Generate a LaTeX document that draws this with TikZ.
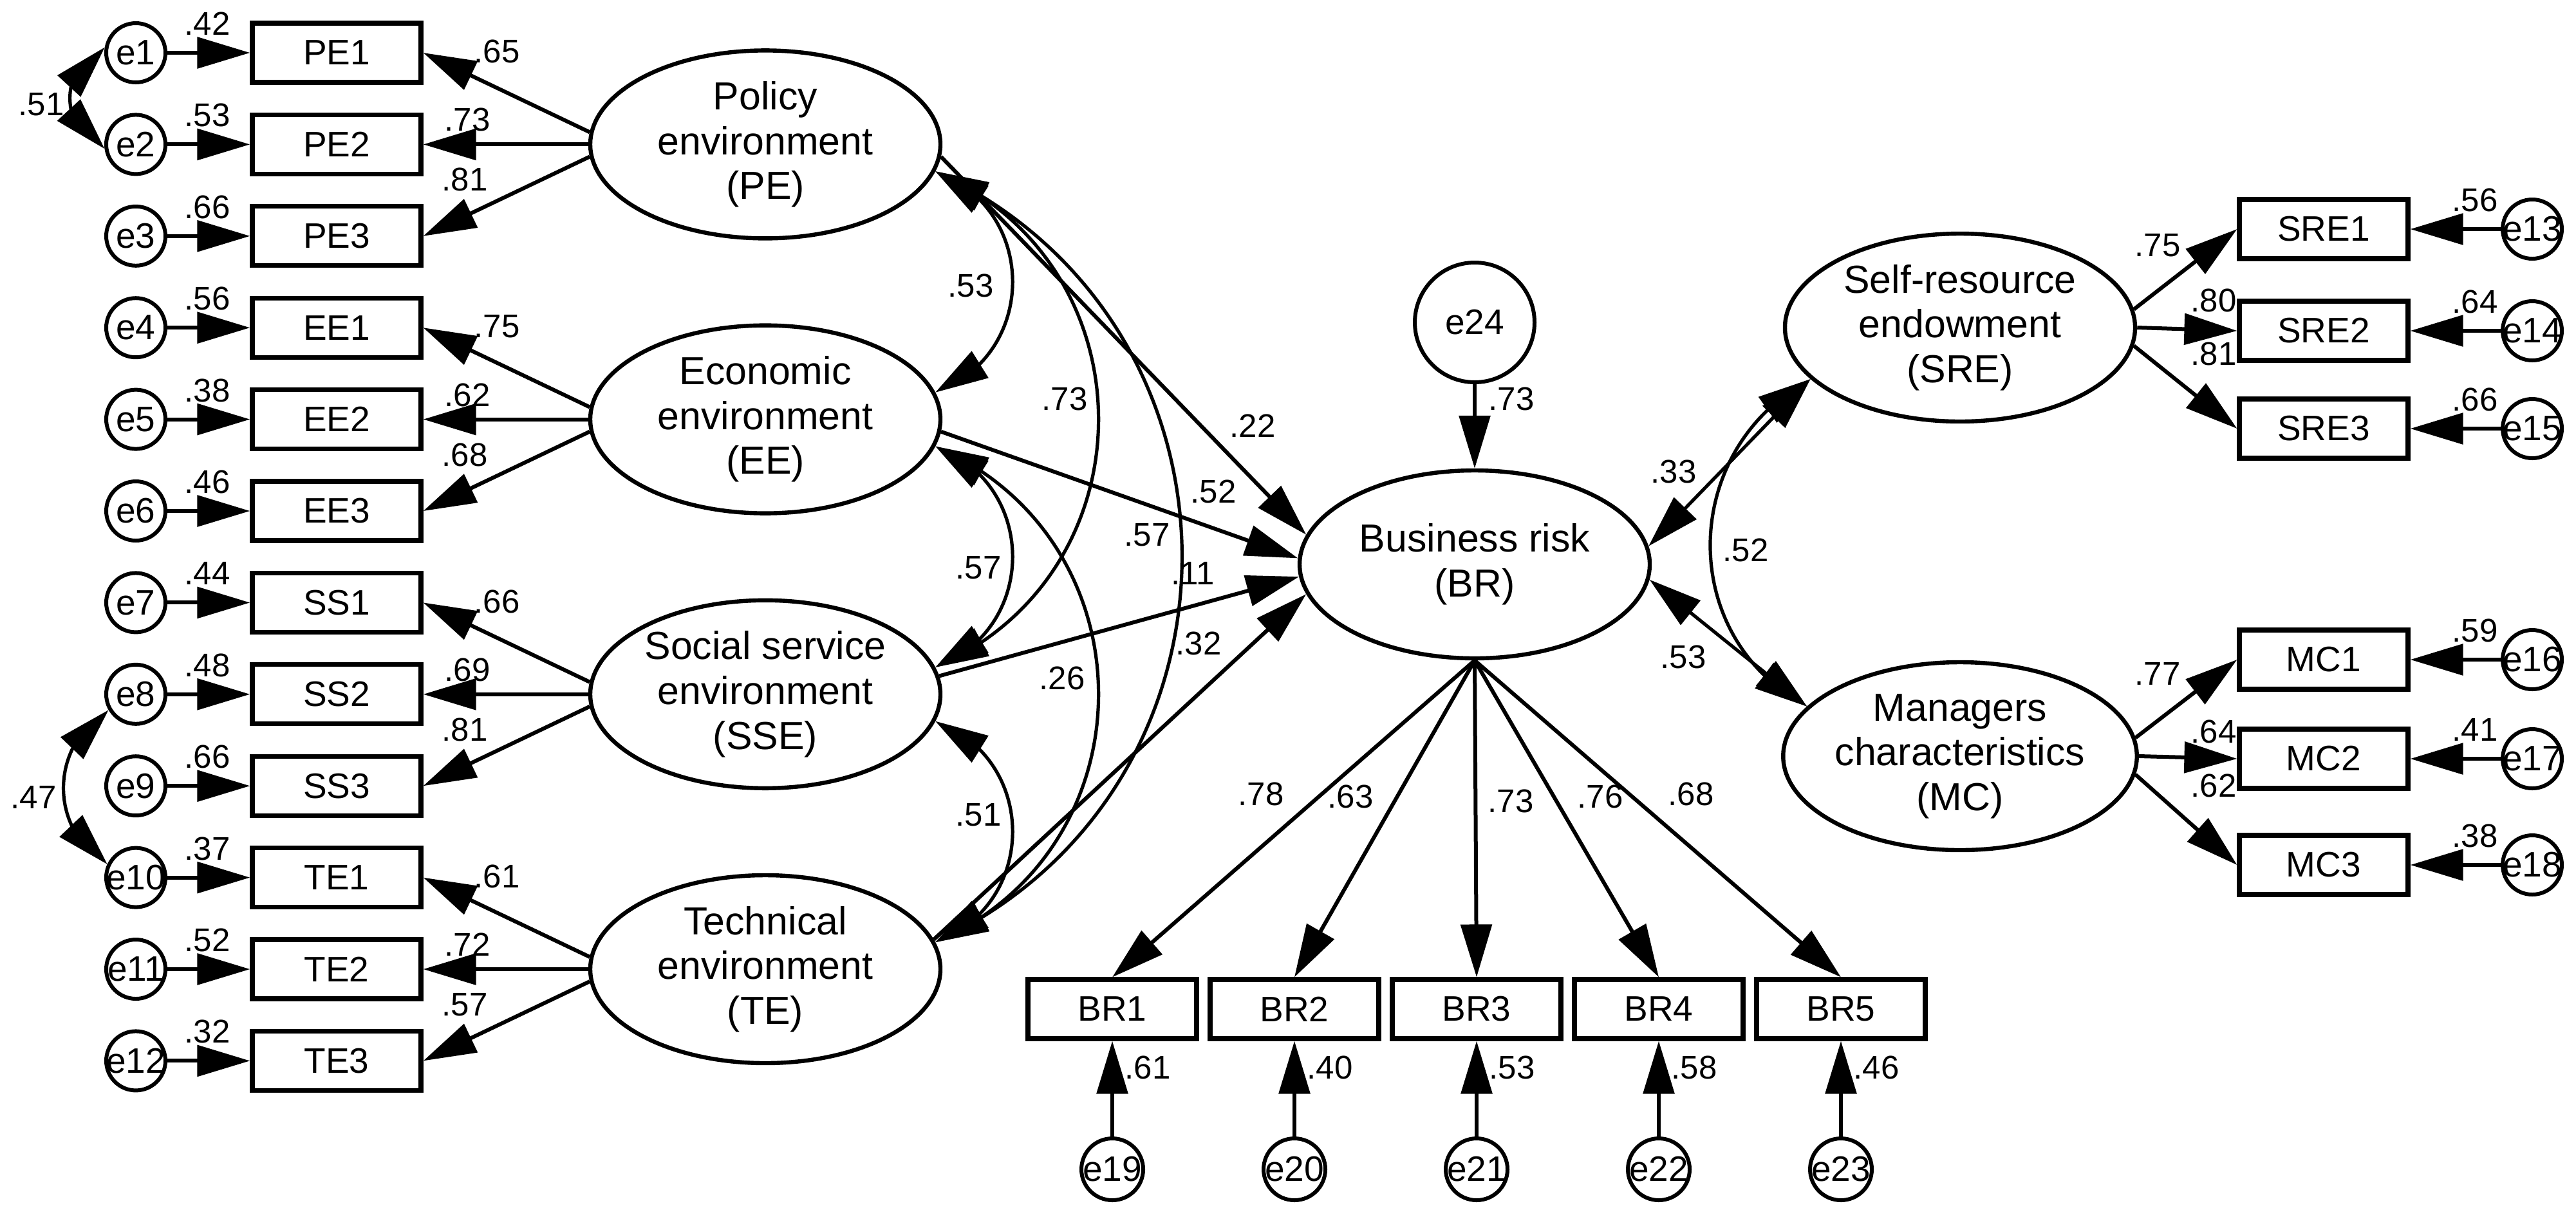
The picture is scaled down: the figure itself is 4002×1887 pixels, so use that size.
\documentclass[tikz,border=0pt]{standalone}
\usepackage{fontspec}
\setmainfont{Liberation Sans}
\usetikzlibrary{arrows.meta,bending,shapes.geometric}
\newcommand{\ztext}[1]{\makebox[0pt]{#1}}
\begin{document}
\begin{tikzpicture}[x=0.25pt,y=-0.25pt,
  >={Triangle[length=20.5pt,width=12pt]},
  obs/.style={draw, line width=1.8pt, minimum width=65.5pt, minimum height=23pt, inner sep=0pt, font=\fontsize{13.75pt}{16pt}\selectfont},
  err/.style={draw, circle, line width=1.5pt, minimum size=23pt, inner sep=0pt, font=\fontsize{13.75pt}{16pt}\selectfont},
  lat/.style={draw, ellipse, line width=1.6pt, minimum width=136pt, minimum height=73pt, inner sep=0pt, align=center, font=\fontsize{15.2pt}{17.4pt}\selectfont},
  lbl/.style={inner sep=0pt, font=\fontsize{12.75pt}{14pt}\selectfont},
  reg/.style={->, line width=1.5pt},
  covr/.style={<->, line width=1.3pt}
]
\fill[white] (0,0) rectangle (4002,1887);
\useasboundingbox (0,0) rectangle (4002,1887);

% ---------- left latent variables ----------
\node[lat] (PE)  at (1189,224.4)  {Policy\\environment\\(PE)};
\node[lat] (EE)  at (1189,651.6)  {Economic\\environment\\(EE)};
\node[lat] (SSE) at (1189,1078.8) {Social service\\environment\\(SSE)};
\node[lat] (TE)  at (1189,1506)   {Technical\\environment\\(TE)};

% ---------- left indicators and errors ----------
\foreach \ee/\bx/\yy/\vv in {e1/PE1/82/.42, e2/PE2/224.4/.53, e3/PE3/366.8/.66,
  e4/EE1/509.2/.56, e5/EE2/651.6/.38, e6/EE3/794/.46,
  e7/SS1/936.4/.44, e8/SS2/1078.8/.48, e9/SS3/1221.2/.66,
  e10/TE1/1363.6/.37, e11/TE2/1506/.52, e12/TE3/1648.4/.32} {
  \node[err] (\ee) at (211,\yy) {\ztext{\ee}};
  \node[obs] (\bx) at (523,\yy) {\bx};
  \draw[reg] (\ee) -- (\bx);
  \node[lbl] (l\ee) at (322,\yy-45) {\vv};
}

% ---------- left loadings ----------
\foreach \L/\ba/\bb/\bc/\ya/\va/\vb/\vc in {PE/PE1/PE2/PE3/224.4/.65/.73/.81,
  EE/EE1/EE2/EE3/651.6/.75/.62/.68,
  SSE/SS1/SS2/SS3/1078.8/.66/.69/.81,
  TE/TE1/TE2/TE3/1506/.61/.72/.57} {
  \draw[reg] (\L.176) -- (\ba.east);
  \draw[reg] (\L.west) -- (\bb.east);
  \draw[reg] (\L.184) -- (\bc.east);
  \node[lbl] (la\L) at (772,\ya-144) {\va};
  \node[lbl] (lb\L) at (726,\ya-38) {\vb};
  \node[lbl] (lc\L) at (722,\ya+55) {\vc};
}

% ---------- error covariances ----------
\draw[covr] (e1.170) .. controls +(-72,28) and +(-72,-28) .. (e2.188);
\node[lbl] (c12) at (64,162) {.51};
\draw[covr] (e8.210) .. controls +(-92,54) and +(-92,-54) .. (e10.155);
\node[lbl] (c810) at (52,1239) {.47};

% ---------- covariances among exogenous latents ----------
\draw[covr] (PE.-9)  .. controls +(160,59) and +(160,-59) .. (EE.9);
\draw[covr] (EE.-9)  .. controls +(160,59) and +(160,-59) .. (SSE.9);
\draw[covr] (SSE.-9) .. controls +(160,59) and +(160,-59) .. (TE.9);
\draw[covr] (PE.-9)  .. controls +(338,146) and +(338,-146) .. (SSE.9);
\draw[covr] (EE.-9)  .. controls +(338,146) and +(338,-146) .. (TE.9);
\draw[covr] (PE.-9)  .. controls +(511,237) and +(511,-237) .. (TE.9);
\node[lbl] (cPEEE)   at (1508,444)  {.53};
\node[lbl] (cEESSE)  at (1520,882)  {.57};
\node[lbl] (cSSETE)  at (1520,1266) {.51};
\node[lbl] (cPESSE)  at (1654,620)  {.73};
\node[lbl] (cEETE)   at (1650,1054) {.26};
\node[lbl] (cPETE)   at (1853,891)  {.11};

% ---------- business risk ----------
\node[lat] (BR) at (2291,877) {Business risk\\(BR)};
\node[err, minimum size=46.5pt] (e24) at (2291,501) {e24};
\draw[reg] (e24) -- (BR);
\node[lbl] (l24) at (2348,620) {.73};

\draw[reg] (PE.-4) -- (BR.170);
\draw[reg] (EE.-4) -- (BR.178);
\draw[reg] (SSE.6) -- (BR.184);
\draw[reg] (TE.10) -- (BR.190);
\node[lbl] (rPE)  at (1946,662)  {.22};
\node[lbl] (rEE)  at (1885,764)  {.52};
\node[lbl] (rSSE) at (1782,831)  {.57};
\node[lbl] (rTE)  at (1862,1000) {.32};

\foreach \k/\xx/\ee/\lx/\ly/\va/\vb in {1/1728/e19/1959/1234/.78/.61,
  2/2011/e20/2098/1238/.63/.40,
  3/2294/e21/2347/1245/.73/.53,
  4/2577/e22/2486/1238/.76/.58,
  5/2860/e23/2627/1234/.68/.46} {
  \node[obs] (BR\k) at (\xx,1568) {BR\k};
  \node[err, minimum size=24pt] (\ee) at (\xx,1817) {\ztext{\ee}};
  \draw[reg] (BR.south) -- (BR\k.north);
  \draw[reg] (\ee) -- (BR\k);
  \node[lbl] (lBR\k) at (\lx,\ly) {\va};
  \node[lbl] (l\ee) at (\xx+55,1659) {\vb};
}

% ---------- right latent variables ----------
\node[lat] (SRE) at (3045,509)  {Self-resource\\endowment\\(SRE)};
\node[lat] (MC)  at (3045,1175) {Managers\\characteristics\\(MC)};

\foreach \ee/\bx/\yy/\vv in {e13/SRE1/356/.56, e14/SRE2/514/.64, e15/SRE3/666/.66,
  e16/MC1/1025/.59, e17/MC2/1179/.41, e18/MC3/1344/.38} {
  \node[err] (\ee) at (3934,\yy) {\ztext{\ee}};
  \node[obs] (\bx) at (3610,\yy) {\bx};
  \draw[reg] (\ee) -- (\bx);
  \node[lbl] (l\ee) at (3845,\yy-45) {\vv};
}

\draw[reg] (SRE.6)    -- (SRE1.west);
\draw[reg] (SRE.east) -- (SRE2.west);
\draw[reg] (SRE.-6)   -- (SRE3.west);
\draw[reg] (MC.6)     -- (MC1.west);
\draw[reg] (MC.east)  -- (MC2.west);
\draw[reg] (MC.-6)    -- (MC3.west);
\node[lbl] (lSRE1) at (3352,381)  {.75};
\node[lbl] (lSRE2) at (3439,467)  {.80};
\node[lbl] (lSRE3) at (3439,550)  {.81};
\node[lbl] (lMC1)  at (3352,1047) {.77};
\node[lbl] (lMC2)  at (3439,1137) {.64};
\node[lbl] (lMC3)  at (3439,1221) {.62};

% ---------- right covariances ----------
\draw[covr] (BR.6)  -- (SRE.199);
\draw[covr] (BR.-5) -- (MC.162);
\draw[covr] (SRE.199) .. controls +(-204,109) and +(-204,-109) .. (MC.162);
\node[lbl] (cBRSRE) at (2600,733)  {.33};
\node[lbl] (cBRMC)  at (2615,1021) {.53};
\node[lbl] (cSREMC) at (2712,855)  {.52};
\end{tikzpicture}
\end{document}
